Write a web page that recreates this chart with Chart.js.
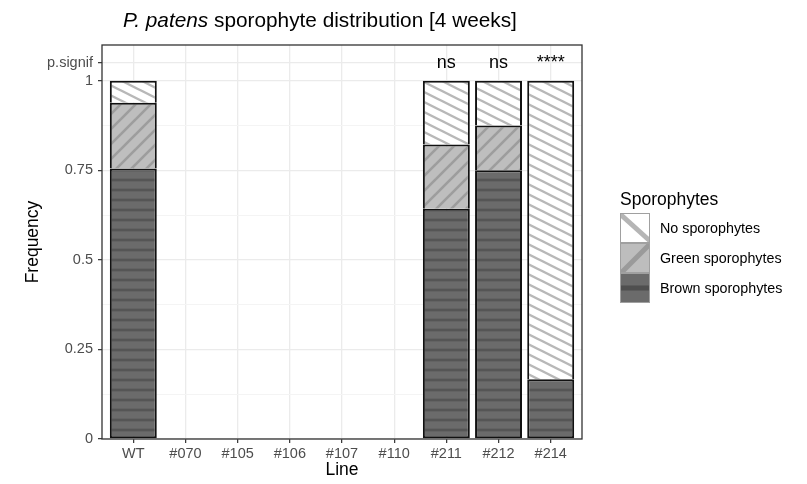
<!DOCTYPE html>
<html>
<head>
<meta charset="utf-8">
<script src="https://cdn.jsdelivr.net/npm/chart.js@4.4.1/dist/chart.umd.min.js"></script>
<style>
  html, body { margin: 0; padding: 0; background: #ffffff; }
  #wrap { position: relative; width: 807px; height: 484px; background: #ffffff; font-family: 'Liberation Sans', Arial, sans-serif; }
  #chart { position: absolute; left: 0; top: 0; }
  #title { position: absolute; left: 123px; top: 8px; font-size: 20.8px; line-height: 24px; color: #000; white-space: nowrap; }
  .ltitle { position: absolute; left: 620px; top: 188px; font-size: 17.5px; line-height: 22px; color: #000; white-space: nowrap; }
  .lkey { position: absolute; left: 620px; width: 30px; height: 30px; }
  .llabel { position: absolute; left: 660px; font-size: 14.3px; line-height: 30px; color: #000; white-space: nowrap; }
</style>
</head>
<body>
<div id="wrap">
  <canvas id="chart" width="807" height="484"></canvas>
  <div id="title"><i>P. patens</i> sporophyte distribution [4 weeks]</div>
  <div id="legend"></div>
</div>
<script>
// Lines on the x axis
const categories = ['WT', '#070', '#105', '#106', '#107', '#110', '#211', '#212', '#214'];

// Frequencies per line (null = line not scored)
const brownFreq = [0.755, null, null, null, null, null, 0.643, 0.750, 0.167];
const greenFreq = [0.184, null, null, null, null, null, 0.179, 0.125, null];
const noneFreq  = [0.061, null, null, null, null, null, 0.178, 0.125, 0.833];

// Significance labels drawn on the p.signif row
const sigLabels = ['', '', '', '', '', '', 'ns', 'ns', '****'];
const sigLevel = 1.05;

// Y axis breaks
const yMajorTicks = [0, 0.25, 0.5, 0.75, 1, 1.05];
const yMajorLabels = ['0', '0.25', '0.5', '0.75', '1', 'p.signif'];
const yMinorTicks = [0.125, 0.375, 0.625, 0.875];

const seriesNames = ['Brown sporophytes', 'Green sporophytes', 'No sporophytes'];

// ---- fill patterns ----
function tile(w, h, draw) {
  const c = document.createElement('canvas');
  c.width = w; c.height = h;
  draw(c.getContext('2d'), w, h);
  return c;
}
const brownTile = tile(10, 10, (g, w, h) => {
  g.fillStyle = '#6b6b6b'; g.fillRect(0, 0, w, h);
  g.fillStyle = '#555555';
  g.fillRect(0, 8.7, w, 1.3);
  g.fillRect(0, 0, w, 1.3);
});
const greenTile = tile(15, 15, (g, w, h) => {
  g.fillStyle = '#bebebe'; g.fillRect(0, 0, w, h);
  g.strokeStyle = '#9d9d9d'; g.lineWidth = 2.6;
  [[-1, 16, 16, -1], [-2, 2, 2, -2], [13, 17, 17, 13]].forEach(([a, b, c, d]) => {
    g.beginPath(); g.moveTo(a, b); g.lineTo(c, d); g.stroke();
  });
});
const noneTile = tile(20, 10, (g, w, h) => {
  g.fillStyle = '#ffffff'; g.fillRect(0, 0, w, h);
  g.strokeStyle = '#b8b8b8'; g.lineWidth = 2.4;
  [-10, 0, 10].forEach(dy => {
    g.beginPath(); g.moveTo(-4, -2 + dy); g.lineTo(24, 12 + dy); g.stroke();
  });
});

const canvas = document.getElementById('chart');
const ctx = canvas.getContext('2d');
const brownPattern = ctx.createPattern(brownTile, 'repeat');
const greenPattern = ctx.createPattern(greenTile, 'repeat');
const nonePattern = ctx.createPattern(noneTile, 'repeat');

function points(values) {
  return categories.map((c, i) => ({ x: i, y: values[i] })).filter(p => p.y !== null);
}

const edge = 2;
function barStyle(pattern, withBottom) {
  return {
    backgroundColor: pattern,
    borderColor: '#111111',
    borderWidth: { top: edge, left: edge, right: edge, bottom: withBottom ? edge : 0 },
    borderSkipped: false,
    barPercentage: 0.9,
    categoryPercentage: 1.0,
    inflateAmount: 0
  };
}

// Panel frame and significance labels
const panelPlugin = {
  id: 'panel',
  afterDatasetsDraw(chart) {
    const { ctx, chartArea: a, scales } = chart;
    ctx.save();
    ctx.font = "18px 'Liberation Sans', Arial, sans-serif";
    ctx.fillStyle = '#000';
    ctx.textAlign = 'center';
    ctx.textBaseline = 'alphabetic';
    sigLabels.forEach((s, i) => {
      if (!s) return;
      const x = scales.x.getPixelForValue(i);
      const y = scales.y.getPixelForValue(sigLevel);
      ctx.fillText(s, x, y + 18 * 0.26);
    });
    ctx.strokeStyle = '#333333';
    ctx.lineWidth = 1.3;
    ctx.strokeRect(a.left, a.top, a.right - a.left, a.bottom - a.top);
    ctx.restore();
  }
};

Chart.defaults.font.family = "'Liberation Sans', Arial, sans-serif";

const isMinor = v => yMinorTicks.some(m => Math.abs(m - v) < 1e-9);

new Chart(ctx, {
  type: 'bar',
  data: {
    datasets: [
      Object.assign({ label: seriesNames[0], data: points(brownFreq) }, barStyle(brownPattern, true)),
      Object.assign({ label: seriesNames[1], data: points(greenFreq) }, barStyle(greenPattern, false)),
      Object.assign({ label: seriesNames[2], data: points(noneFreq) }, barStyle(nonePattern, false))
    ]
  },
  options: {
    responsive: false,
    animation: false,
    devicePixelRatio: 1,
    layout: { padding: { left: 0, top: 45, right: 225, bottom: 0 } },
    plugins: { legend: { display: false }, tooltip: { enabled: false }, title: { display: false } },
    scales: {
      x: {
        type: 'linear',
        stacked: true,
        offset: false,
        min: -0.6,
        max: categories.length - 1 + 0.6,
        afterBuildTicks: s => { s.ticks = categories.map((c, i) => ({ value: i })); },
        afterFit: s => { s.height = 45; },
        border: { display: false },
        grid: { offset: false, color: '#ebebeb', lineWidth: 1.3, tickLength: 4, tickColor: '#333333', tickWidth: 1.2 },
        ticks: {
          autoSkip: false, maxRotation: 0, padding: 2,
          color: '#4d4d4d', font: { size: 14.5 },
          callback: v => categories[v] ?? ''
        },
        title: { display: true, text: 'Line', color: '#000', font: { size: 17.5 }, padding: { top: 0, bottom: 3.5 } }
      },
      y: {
        type: 'linear',
        stacked: true,
        min: 0,
        max: 1.1,
        afterBuildTicks: s => {
          s.ticks = yMajorTicks.concat(yMinorTicks).sort((a, b) => a - b).map(v => ({ value: v }));
        },
        afterFit: s => { s.width = 102; },
        border: { display: false },
        grid: {
          color: c => (c.tick && isMinor(c.tick.value)) ? '#f4f4f4' : '#ebebeb',
          lineWidth: c => (c.tick && isMinor(c.tick.value)) ? 1 : 1.3,
          tickLength: 4,
          tickColor: c => (c.tick && isMinor(c.tick.value)) ? 'rgba(0,0,0,0)' : '#333333',
          tickWidth: 1.2
        },
        ticks: {
          autoSkip: false, padding: 5,
          color: '#4d4d4d', font: { size: 14.5 },
          callback: v => {
            const k = yMajorTicks.findIndex(t => Math.abs(t - v) < 1e-9);
            return k >= 0 ? yMajorLabels[k] : '';
          }
        },
        title: { display: true, text: 'Frequency', color: '#000', font: { size: 17.5 }, padding: { top: 22.5, bottom: 0 } }
      }
    }
  },
  plugins: [panelPlugin]
});

// ---- legend ----
const legend = document.getElementById('legend');
const lt = document.createElement('div');
lt.className = 'ltitle';
lt.textContent = 'Sporophytes';
legend.appendChild(lt);

const keyDrawers = [
  g => { // No sporophytes
    g.fillStyle = '#ffffff'; g.fillRect(0, 0, 30, 30);
    g.strokeStyle = '#b5b5b5'; g.lineWidth = 5;
    g.beginPath(); g.moveTo(0, 1); g.lineTo(30, 28); g.stroke();
  },
  g => { // Green sporophytes
    g.fillStyle = '#bdbdbd'; g.fillRect(0, 0, 30, 30);
    g.strokeStyle = '#9a9a9a'; g.lineWidth = 5;
    g.beginPath(); g.moveTo(1, 30); g.lineTo(30, 1); g.stroke();
  },
  g => { // Brown sporophytes
    g.fillStyle = '#6b6b6b'; g.fillRect(0, 0, 30, 30);
    g.fillStyle = '#4f4f4f'; g.fillRect(0, 12.5, 30, 5);
  }
];
const legendOrder = [2, 1, 0];
legendOrder.forEach((si, row) => {
  const top = 213 + row * 30;
  const key = document.createElement('canvas');
  key.className = 'lkey';
  key.width = 30; key.height = 30;
  key.style.top = top + 'px';
  const g = key.getContext('2d');
  keyDrawers[row](g);
  g.strokeStyle = '#a0a0a0'; g.lineWidth = 1;
  g.strokeRect(0.5, 0.5, 29, 29);
  legend.appendChild(key);
  const lab = document.createElement('div');
  lab.className = 'llabel';
  lab.style.top = top + 'px';
  lab.textContent = seriesNames[si];
  legend.appendChild(lab);
});
</script>
</body>
</html>
